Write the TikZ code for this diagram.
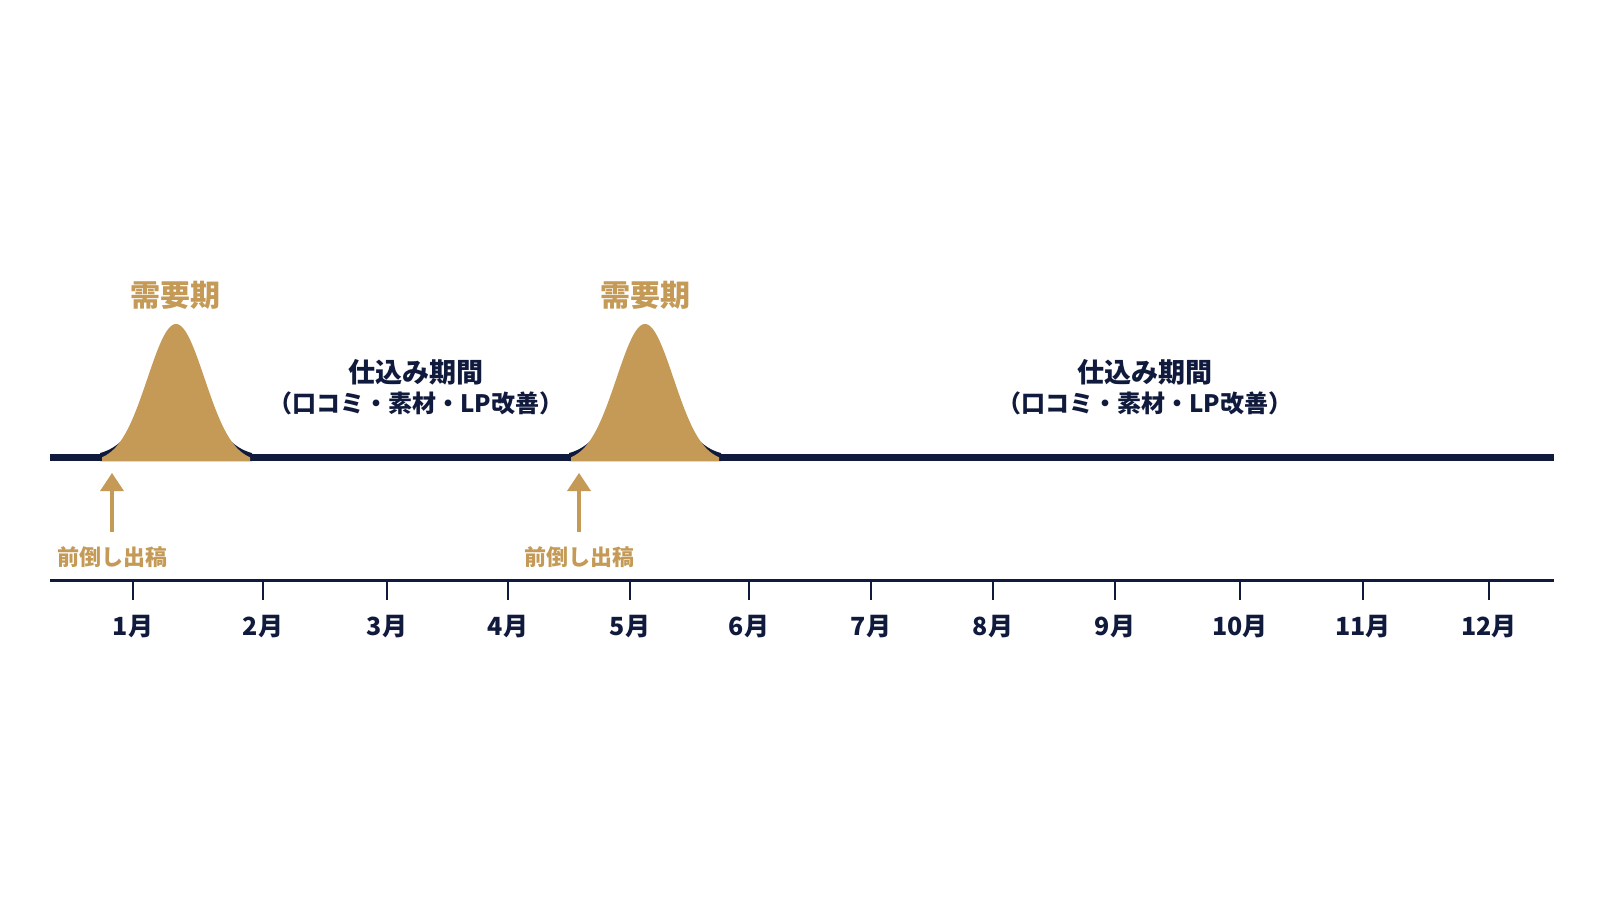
\documentclass[tikz,border=0pt]{standalone}
\usepackage{fontspec}
\setmainfont{Noto Sans CJK JP}
\usetikzlibrary{arrows.meta}
\definecolor{navy}{HTML}{101A3C}
\definecolor{gold}{HTML}{C49A56}

\begin{document}
\begin{tikzpicture}[x=1pt,y=-1pt,
        month node/.style={text=navy,inner sep=0pt,font=\fontsize{25}{28}\selectfont\bfseries},
        peak node/.style={text=gold,inner sep=0pt,font=\fontsize{30}{32}\selectfont\bfseries},
        prep node/.style={text=navy,inner sep=0pt,align=center,font=\fontsize{24}{30}\selectfont\bfseries},
        early node/.style={text=gold,inner sep=0pt,font=\fontsize{22}{24}\selectfont\bfseries},
        month tick/.style={draw=navy,line width=2.5pt},
        early arrow/.style={color=gold,line width=4pt,shorten <=25pt,-{Triangle[width=24pt,length=18pt,line width=0pt]}}]
        \useasboundingbox[fill=white] (0,0) rectangle (1600,900);
        % demand line and peaks
        \draw[navy,line width=7pt] (50,457.5) -- (1554,457.5);
        \fill[navy] (100,461) -- plot[domain=100:252,samples=120] (\x,{456.27-80*exp(-((\x-176)/30)^2/2)}) -- (252,461) -- cycle;
        \fill[gold] (102,461) -- plot[domain=102:250,samples=120] (\x,{462-138*exp(-((\x-176)/28.5)^2/2)}) -- (250,461) -- cycle;
        \fill[navy] (569,461) -- plot[domain=569:721,samples=120] (\x,{456.27-80*exp(-((\x-645)/30)^2/2)}) -- (721,461) -- cycle;
        \fill[gold] (571,461) -- plot[domain=571:719,samples=120] (\x,{462-138*exp(-((\x-645)/28.5)^2/2)}) -- (719,461) -- cycle;
        \node[peak node] (d1) at (175,295) {需要期};
        \node[peak node] (d2) at (645,295) {需要期};
        \node[prep node] (p1) at (416,387) {{\fontsize{27}{30}\selectfont 仕込み期間}\\（口コミ・素材・LP改善）};
        \node[prep node] (p2) at (1145,387) {{\fontsize{27}{30}\selectfont 仕込み期間}\\（口コミ・素材・LP改善）};
        % early placement
        \coordinate (a1) at (112,473);
        \coordinate (a2) at (579,473);
        \node[early node] (e1) at (112,557) {前倒し出稿};
        \node[early node] (e2) at (579,557) {前倒し出稿};
        \draw[early arrow] (e1.center) -- (a1);
        \draw[early arrow] (e2.center) -- (a2);
        % month axis
        \draw[navy,line width=3pt] (50,580) -- (1554,580);
        \coordinate (t1) at (133,580);
        \coordinate (t2) at (263,580);
        \coordinate (t3) at (387,580);
        \coordinate (t4) at (508,580);
        \coordinate (t5) at (630,580);
        \coordinate (t6) at (749,580);
        \coordinate (t7) at (871,580);
        \coordinate (t8) at (993,580);
        \coordinate (t9) at (1115,580);
        \coordinate (t10) at (1240,580);
        \coordinate (t11) at (1363,580);
        \coordinate (t12) at (1489,580);
        \node[month node] (m1) at (133,627) {1月};
        \node[month node] (m2) at (263,627) {2月};
        \node[month node] (m3) at (387,627) {3月};
        \node[month node] (m4) at (508,627) {4月};
        \node[month node] (m5) at (630,627) {5月};
        \node[month node] (m6) at (749,627) {6月};
        \node[month node] (m7) at (871,627) {7月};
        \node[month node] (m8) at (993,627) {8月};
        \node[month node] (m9) at (1115,627) {9月};
        \node[month node] (m10) at (1240,627) {10月};
        \node[month node] (m11) at (1363,627) {11月};
        \node[month node] (m12) at (1489,627) {12月};
        \path[month tick]
        (t1) edge +(0,20) (t2) edge +(0,20) (t3) edge +(0,20)
        (t4) edge +(0,20) (t5) edge +(0,20) (t6) edge +(0,20)
        (t7) edge +(0,20) (t8) edge +(0,20) (t9) edge +(0,20)
        (t10) edge +(0,20) (t11) edge +(0,20) (t12) edge +(0,20)
        ;
\end{tikzpicture}
\end{document}
